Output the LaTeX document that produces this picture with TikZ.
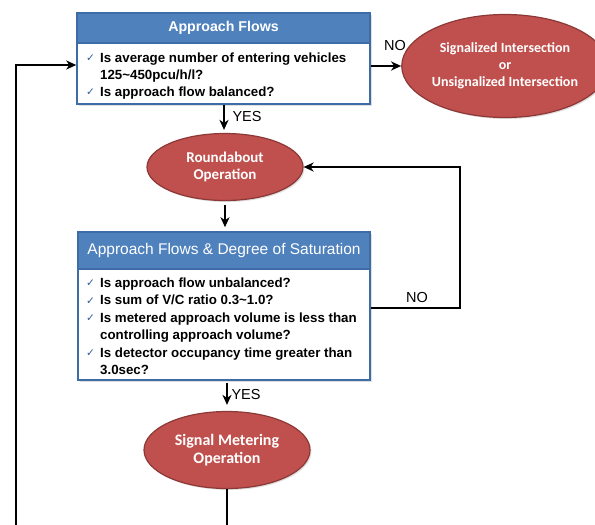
\documentclass[tikz,border=0pt]{standalone}
\usepackage{fontspec}
\setmainfont{Liberation Sans}
\newfontfamily\calib{Carlito}
\newfontfamily\djv{DejaVu Sans}
\usetikzlibrary{shapes.geometric,arrows.meta,shadows}
\definecolor{hdrblue}{HTML}{4F81BD}
\definecolor{bdrblue}{HTML}{3D6CA6}
\definecolor{ellred}{HTML}{C0504D}
\definecolor{ellbdr}{HTML}{8C3836}
\definecolor{chkblue}{HTML}{2E5C9A}
\newcommand\chk{\makebox[14pt][l]{\raisebox{0.5pt}{\textcolor{chkblue}{\djv\mdseries\fontsize{10.5}{10}\selectfont ✓}}}}
\newcommand\ind{\hspace*{14pt}}
\begin{document}
\begin{tikzpicture}[x=1pt,y=-1pt,
  shd/.style={drop shadow={opacity=0.25, shadow xshift=1.5pt, shadow yshift=-1.5pt}},
  box/.style={draw=bdrblue, line width=1.5pt, fill=white, rectangle, inner sep=0pt, shd},
  hdr/.style={draw=bdrblue, line width=1.5pt, fill=hdrblue, rectangle, text=white, inner sep=0pt},
  body/.style={anchor=north west, align=left, inner sep=0pt},
  ell/.style={ellipse, draw=ellbdr, line width=1.2pt, fill=ellred, text=white, align=center, inner sep=0pt, shd},
  arr/.style={-{Stealth[length=10pt,width=9pt,inset=3pt]}, line width=1.7pt},
  lbl/.style={font=\fontsize{14.5}{16}\selectfont}]
\useasboundingbox (0,0) rectangle (595,525);
\clip (0,0) rectangle (595,525);

% Box 1
\node[box, minimum width=293pt, minimum height=91pt] (b1) at (223.5,58.5) {};
\node[hdr, minimum width=293pt, minimum height=30pt, anchor=north, font=\bfseries\fontsize{14.2}{16}\selectfont] (h1) at (b1.north) {Approach Flows};
\node[body, font=\bfseries\fontsize{13.3}{17}\selectfont] (t1) at (86,52.5) {\chk Is average number of entering vehicles\\ \ind 125\textasciitilde 450pcu/h/l?\\ \chk Is approach flow balanced?};

% Ellipse 1
\node[ell, minimum width=174pt, minimum height=103pt, font=\calib\bfseries\fontsize{14}{17}\selectfont] (e1) at (505,66) {Signalized Intersection\\or\\Unsignalized Intersection};

% Roundabout
\node[ell, minimum width=156pt, minimum height=67pt, font=\calib\bfseries\fontsize{15}{17}\selectfont] (ra) at (225,167) {Roundabout\\Operation};

% Box 2
\node[box, minimum width=292pt, minimum height=148pt] (b2) at (224,306) {};
\node[hdr, minimum width=292pt, minimum height=37pt, anchor=north, font=\fontsize{15.5}{17}\selectfont] (h2) at (b2.north) {Approach Flows \& Degree of Saturation};
\node[body, font=\bfseries\fontsize{13.3}{17.5}\selectfont] (t2) at (86,277.5) {\chk Is approach flow unbalanced?\\ \chk Is sum of V/C ratio 0.3\textasciitilde 1.0?\\ \chk Is metered approach volume is less than\\ \ind controlling approach volume?\\ \chk Is detector occupancy time greater than\\ \ind 3.0sec?};

% Signal metering
\node[ell, minimum width=166pt, minimum height=77pt, font=\calib\bfseries\fontsize{16}{18}\selectfont] (sm) at (227,450) {Signal Metering\\Operation};

% Connectors
\draw[arr] (b1.east |- e1.west) -- (e1.west);
\node[lbl] (no1) at (395,46) {NO};
\draw[arr, shorten >=3pt] (b1.south -| 224,0) -- (ra.north -| 224,0);
\node[lbl, anchor=west] (yes1) at (229,117) {YES};
\draw[arr, shorten >=4pt, shorten <=4pt] (ra.south) -- (b2.north -| ra.south);
\draw[arr, shorten >=6pt, shorten <=2pt] (b2.south -| 227,0) -- (sm.north);
\node[lbl, anchor=west] (yes2) at (228,395) {YES};
\coordinate (nr) at (460,308);
\draw[arr] (b2.east |- nr) -- (nr) |- (ra.east);
\node[lbl] (no2) at (417,298) {NO};
\coordinate (lb) at (227,540);
\coordinate (ll) at (16,540);
\coordinate (lt) at (16,65);
\draw[arr] (sm.south) -- (lb) -- (ll) -- (lt) -- (lt -| b1.west);
\end{tikzpicture}
\end{document}
